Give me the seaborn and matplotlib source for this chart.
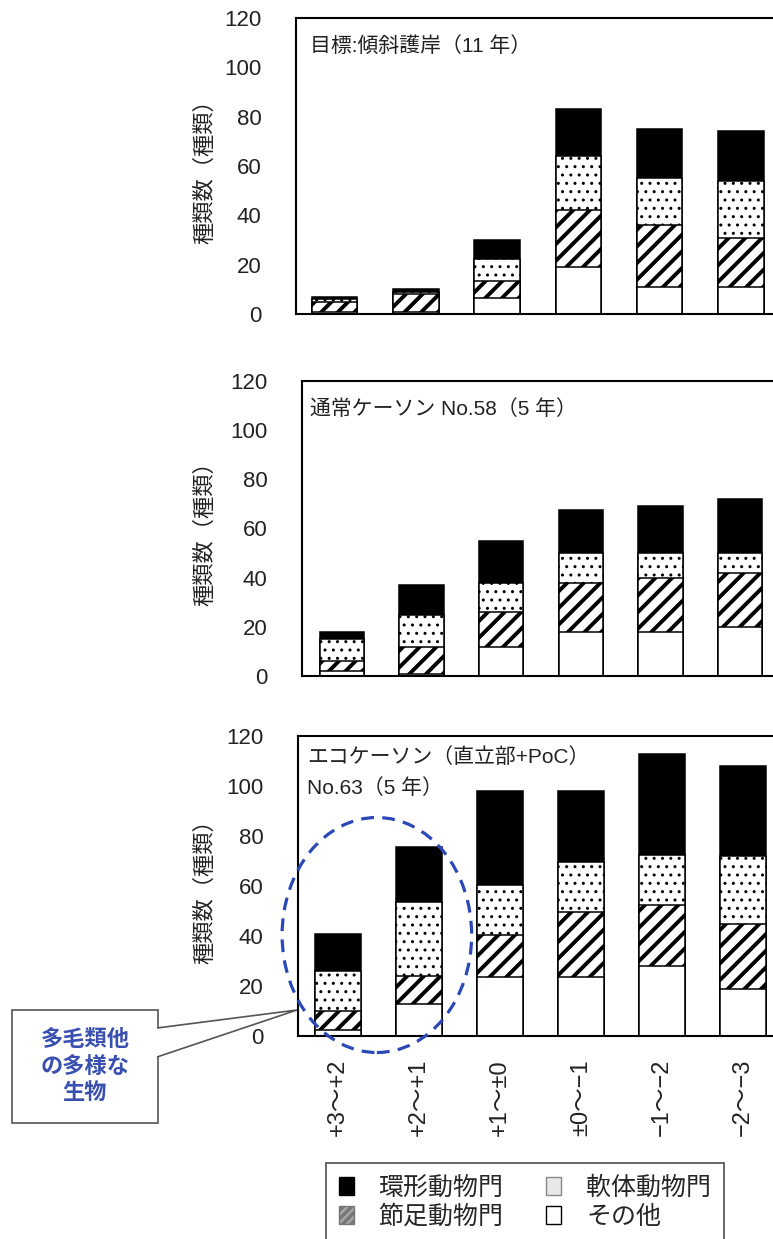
import matplotlib
matplotlib.use("Agg")
import matplotlib.pyplot as plt
from matplotlib.patches import Ellipse, Patch, Rectangle, Polygon
import pandas as pd
import seaborn as sns

sns.set_style("white")
plt.rcParams['font.family'] = ['Liberation Sans', 'Noto Sans CJK JP']
plt.rcParams['hatch.linewidth'] = 2.5

# 地盤高区分 (m)
zones = ["+3～+2", "+2～+1", "+1～±0", "±0～−1", "−1～−2", "−2～−3"]

# 目標:傾斜護岸(11年)
slope_other = [1, 1, 6.5, 19, 11, 11]
slope_arthropod = [4, 7, 7, 23, 25, 20]
slope_mollusc = [1, 1, 9, 22, 19, 23]
slope_annelid = [1, 1, 7.5, 19, 20, 20]

# 通常ケーソン No.58(5年)
normal_other = [2, 1, 12, 18, 18, 20]
normal_arthropod = [4, 11, 14, 20, 22, 22]
normal_mollusc = [9, 13, 12, 12, 10, 8]
normal_annelid = [3, 12, 17, 17.5, 19, 22]

# エコケーソン(直立部+PoC) No.63(5年)
eco_other = [2.5, 13, 23.5, 23.5, 28, 19]
eco_arthropod = [7.5, 11, 17, 26, 24.5, 26]
eco_mollusc = [16, 29.5, 20, 20, 20, 27]
eco_annelid = [15, 22, 37.5, 28.5, 40.5, 36]

W, H = 773, 1239
fig = plt.figure(figsize=(W / 100, H / 100), dpi=100)


def px(x, y):
    return x / W, 1 - y / H


def draw_panel(left, top, bottom, c0, step, other, arth, moll, ann):
    ax = fig.add_axes([left / W, 1 - bottom / H, (W - left) / W, (bottom - top) / H])
    df = pd.DataFrame({"zone": zones, "other": other, "arth": arth,
                       "moll": moll, "ann": ann})
    df["c1"] = df["other"]
    df["c2"] = df["c1"] + df["arth"]
    df["c3"] = df["c2"] + df["moll"]
    df["c4"] = df["c3"] + df["ann"]
    kw = dict(x="zone", order=zones, width=0.56, edgecolor="black",
              linewidth=1.1, saturation=1, errorbar=None, ax=ax)
    sns.barplot(data=df, y="c4", color="black", **kw)
    with plt.rc_context({"hatch.linewidth": 1.0}):
        sns.barplot(data=df, y="c3", color="white", hatch="..", **kw)
    with plt.rc_context({"hatch.linewidth": 2.8}):
        sns.barplot(data=df, y="c2", color="white", hatch="//", **kw)
    sns.barplot(data=df, y="c1", color="white", **kw)

    ax.set_ylim(0, 120)
    ax.set_yticks(range(0, 121, 20))
    ax.set_xlim((left - c0) / step, (W - c0) / step)
    ax.set_xticks(range(len(zones)))
    ax.set_xticks([i + 0.5 for i in range(len(zones) - 1)], minor=True)
    ax.tick_params(axis="x", which="major", length=0)
    ax.tick_params(axis="x", which="minor", direction="in", length=5, width=1.2)
    ax.tick_params(axis="y", direction="in", length=5, width=1.2, pad=25,
                   labelsize=16, labelcolor="#222222")
    for s in ["left", "bottom", "top"]:
        ax.spines[s].set_color("black")
        ax.spines[s].set_linewidth(1.5)
    ax.spines["right"].set_visible(False)
    ax.set_xlabel("")
    ax.set_ylabel("種類数（種類）", fontsize=16, color="#222222")
    ax.yaxis.set_label_coords((216 - left) / (W - left), 0.5)
    return ax


ax1 = draw_panel(296, 18, 314, 334.5, 81.3,
                 slope_other, slope_arthropod, slope_mollusc, slope_annelid)
ax2 = draw_panel(302, 381, 676, 342, 79.6,
                 normal_other, normal_arthropod, normal_mollusc, normal_annelid)
ax3 = draw_panel(298, 736, 1036, 338, 81,
                 eco_other, eco_arthropod, eco_mollusc, eco_annelid)

ax1.set_xticklabels([])
ax2.set_xticklabels([])
ax3.set_xticklabels(zones)
ax3.tick_params(axis="x", which="major", pad=72, labelsize=17,
                labelrotation=90, labelcolor="#222222")
for t in ax3.get_xticklabels():
    t.set_va("bottom")

# panel titles
fig.text(*px(310, 46), "目標:傾斜護岸（11 年）", fontsize=15, va="center", color="#222222")
fig.text(*px(310, 409), "通常ケーソン No.58（5 年）", fontsize=15, va="center", color="#222222")
fig.text(*px(307, 757), "エコケーソン（直立部+PoC）", fontsize=15, va="center", color="#222222")
fig.text(*px(307, 788), "No.63（5 年）", fontsize=15, va="center", color="#222222")

# dashed ellipse around the upper zones
ax3.add_patch(Ellipse((0.48, 40.4), 2.34, 94, fill=False, edgecolor="#2a48b8",
                      linewidth=2.3, linestyle=(0, (4, 2.6)), clip_on=False, zorder=5))

# callout box
box_x0, box_y0 = px(12, 1123)
box_x1, box_y1 = px(158, 1010)
fig.add_artist(Rectangle((box_x0, box_y0), box_x1 - box_x0, box_y1 - box_y0,
                         transform=fig.transFigure, facecolor="white",
                         edgecolor="#555555", linewidth=1.2, zorder=6))
fig.add_artist(Polygon([px(157, 1028), px(297, 1010), px(157, 1057)], closed=False,
                       transform=fig.transFigure, facecolor="white",
                       edgecolor="#555555", linewidth=1.2, zorder=7))
fig.text(*px(85, 1067), "多毛類他\nの多様な\n生物", fontsize=16, color="#3a50b0",
         ha="center", va="center", linespacing=1.35, fontweight="bold", zorder=8)

# legend
handles = [
    Patch(facecolor="black", edgecolor="black", label="環形動物門"),
    Patch(facecolor="#a8a8a8", edgecolor="#777777", hatch="////", label="節足動物門"),
    Patch(facecolor="#e8e8e8", edgecolor="#888888", label="軟体動物門"),
    Patch(facecolor="white", edgecolor="black", label="その他"),
]
leg = fig.legend(handles=handles, ncol=2, loc="upper left",
                 bbox_to_anchor=px(326, 1163), bbox_transform=fig.transFigure,
                 fontsize=18, frameon=True, fancybox=False, borderpad=0.5,
                 handlelength=0.6, handleheight=0.75, handletextpad=1.0,
                 columnspacing=1.7, labelspacing=0.2, borderaxespad=0)
leg.get_frame().set_edgecolor("#333333")
leg.get_frame().set_linewidth(1.3)

fig.savefig("out.png", dpi=100)
